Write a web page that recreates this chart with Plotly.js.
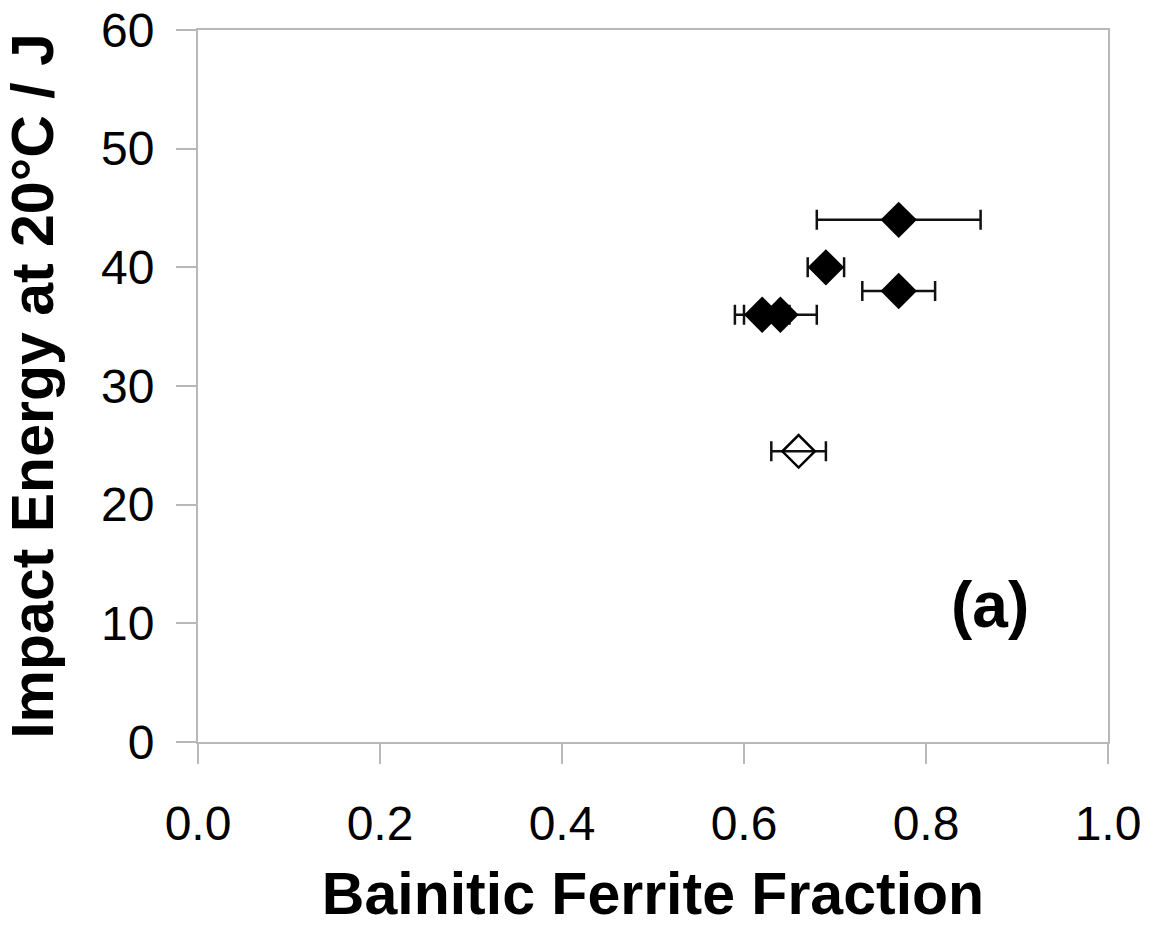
<!DOCTYPE html>
<html>
<head>
<meta charset="utf-8">
<script src="https://cdn.plot.ly/plotly-3.0.1.min.js"></script>
<style>html,body{margin:0;padding:0;background:#fff;}#chart{width:1154px;height:929px;}</style>
</head>
<body>
<div id="chart"></div>
<script>
// Filled diamonds
const filledFraction = [0.77, 0.69, 0.77, 0.62, 0.64];
const filledEnergy = [44, 40, 38, 36, 36];
const filledFractionErr = [0.09, 0.02, 0.04, 0.03, 0.04];
// Open diamond
const openFraction = [0.66];
const openEnergy = [24.5];
const openFractionErr = [0.03];

const xTicks = [0, 0.2, 0.4, 0.6, 0.8, 1.0];
const xTickLabels = ['0.0', '0.2', '0.4', '0.6', '0.8', '1.0'];
const yTicks = [0, 10, 20, 30, 40, 50, 60];

const font = 'Liberation Sans, Arial, sans-serif';
const axisGrey = '#b8b8b8';

const traces = [
  {
    x: filledFraction, y: filledEnergy, type: 'scatter', mode: 'markers',
    marker: {symbol: 'diamond', size: 28, color: '#000'},
    error_x: {type: 'data', array: filledFractionErr, visible: true, color: '#111', thickness: 2.5, width: 10},
    showlegend: false, hoverinfo: 'x+y'
  },
  {
    x: openFraction, y: openEnergy, type: 'scatter', mode: 'markers',
    marker: {symbol: 'diamond-open', size: 25, color: '#000', line: {width: 2.5, color: '#000'}},
    error_x: {type: 'data', array: openFractionErr, visible: true, color: '#111', thickness: 2.5, width: 10},
    showlegend: false, hoverinfo: 'x+y'
  }
];

const layout = {
  width: 1154, height: 929,
  paper_bgcolor: '#fff', plot_bgcolor: '#fff',
  margin: {l: 198, r: 46, t: 30, b: 187},
  font: {family: font, color: '#000'},
  xaxis: {
    range: [0, 1], tickvals: xTicks, ticktext: xTickLabels,
    showgrid: false, zeroline: false,
    showline: true, linecolor: axisGrey, linewidth: 2, mirror: true,
    ticks: 'outside', ticklen: 20, tickwidth: 2, tickcolor: axisGrey,
    tickfont: {size: 48, family: font, color: '#000'},
    ticklabelstandoff: 18, ticklabeloverflow: 'allow',
    title: {text: '<b>Bainitic Ferrite Fraction</b>', font: {size: 59, family: font, color: '#000'}, standoff: 24}
  },
  yaxis: {
    range: [0, 60], tickvals: yTicks,
    showgrid: false, zeroline: false,
    showline: true, linecolor: axisGrey, linewidth: 2, mirror: true,
    ticks: 'outside', ticklen: 20, tickwidth: 2, tickcolor: axisGrey,
    tickfont: {size: 48, family: font, color: '#000'},
    ticklabelstandoff: 12, ticklabeloverflow: 'allow',
    title: {text: '<b>Impact Energy at 20°C / J</b>', font: {size: 59, family: font, color: '#000'}, standoff: 28}
  },
  annotations: [{
    text: '<b>(a)</b>', xref: 'paper', yref: 'paper',
    x: (990 - 198) / 910, y: (742 - 605) / 712, xanchor: 'center', yanchor: 'middle',
    showarrow: false, font: {size: 64, family: font, color: '#000'}
  }]
};

Plotly.newPlot('chart', traces, layout, {displayModeBar: false, staticPlot: true});
</script>
</body>
</html>
